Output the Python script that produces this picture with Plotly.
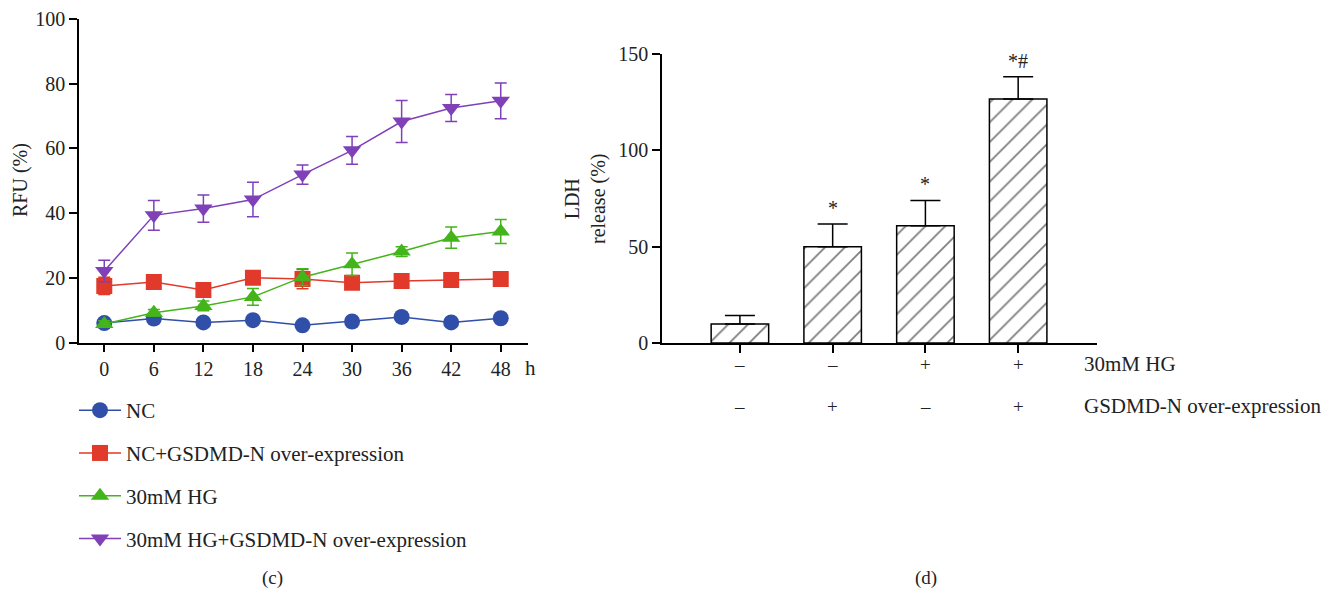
import plotly.graph_objects as go

# ---------------- data ----------------
hours = [0, 6, 12, 18, 24, 30, 36, 42, 48]

nc = [6.0, 7.4, 6.2, 6.9, 5.3, 6.5, 7.9, 6.2, 7.5]
nc_err = [0.6, 0.6, 0.5, 0.5, 0.5, 0.5, 0.6, 0.5, 0.5]

nc_gsdmd = [17.5, 18.7, 16.2, 20.0, 19.6, 18.5, 19.0, 19.3, 19.6]
nc_gsdmd_err = [2.7, 1.0, 1.0, 1.0, 3.0, 1.0, 2.0, 1.0, 1.0]

hg = [5.7, 9.2, 11.3, 14.1, 20.2, 24.2, 28.1, 32.4, 34.3]
hg_err = [1.0, 1.0, 1.5, 2.6, 2.6, 3.5, 1.5, 3.3, 3.7]

hg_gsdmd = [22.1, 39.3, 41.4, 44.2, 51.9, 59.4, 68.3, 72.5, 74.7]
hg_gsdmd_err = [3.3, 4.6, 4.2, 5.3, 3.0, 4.3, 6.5, 4.2, 5.5]

series_names = ["NC", "NC+GSDMD-N over-expression", "30mM HG",
                "30mM HG+GSDMD-N over-expression"]

ldh_groups = [0, 1, 2, 3]
ldh = [9.8, 49.9, 60.8, 126.6]
ldh_err = [4.5, 11.8, 13.2, 11.6]
ldh_sig = ["", "*", "*", "*#"]
hg_sign = ["–", "–", "+", "+"]
gsdmd_sign = ["–", "+", "–", "+"]
row_labels = ["30mM HG", "GSDMD-N over-expression"]

# ---------------- style ----------------
W, H = 1321, 590
FONT = "Liberation Serif, DejaVu Serif, serif"
TXT = "#222"
colors = ["#2f4fa8", "#e1392a", "#43b41a", "#7f40b8"]
symbols = ["circle", "square", "triangle-up", "triangle-down"]
vals = [nc, nc_gsdmd, hg, hg_gsdmd]
errs = [nc_err, nc_gsdmd_err, hg_err, hg_gsdmd_err]


def px(x):
    return x / W


def py(y):
    return (H - y) / H


fig = go.Figure()

for i in range(4):
    fig.add_trace(go.Scatter(
        x=hours, y=vals[i], name=series_names[i], mode="lines+markers",
        line=dict(color=colors[i], width=1.5),
        marker=dict(symbol=symbols[i], size=16, color=colors[i]),
        error_y=dict(type="data", array=errs[i], color=colors[i],
                     thickness=1.5, width=6),
        legendgroup=f"g{i}", xaxis="x", yaxis="y",
    ))

fig.add_trace(go.Bar(
    x=ldh_groups, y=ldh, width=0.62, showlegend=False,
    marker=dict(color="white", line=dict(color="black", width=1.5),
                pattern=dict(shape="/", fgcolor="black", bgcolor="white",
                             size=14, solidity=0.13)),
    error_y=dict(type="data", array=ldh_err, arrayminus=[0] * 4,
                 color="black", thickness=1.5, width=15),
    xaxis="x2", yaxis="y2",
))

axis_common = dict(showline=True, linecolor="black", linewidth=1.5,
                   ticks="outside", ticklen=8, tickwidth=1.5,
                   tickcolor="black", showgrid=False, zeroline=False,
                   tickfont=dict(family=FONT, size=20, color=TXT))


def note(x, y, text, size=20, xref="paper", yref="paper", **kw):
    d = dict(x=x, y=y, xref=xref, yref=yref, text=text, showarrow=False,
             xanchor="center", yanchor="middle",
             font=dict(family=FONT, size=size, color=TXT))
    d.update(kw)
    return d


annotations = []
# right-panel significance marks
for g, v, e, s in zip(ldh_groups, ldh, ldh_err, ldh_sig):
    if s:
        annotations.append(note(g, v + e, s, size=20, xref="x2", yref="y2",
                                yshift=16))
# sign rows
for g, s1, s2 in zip(ldh_groups, hg_sign, gsdmd_sign):
    annotations.append(note(g, py(364), s1, size=19, xref="x2"))
    annotations.append(note(g, py(406), s2, size=19, xref="x2"))
for lab, yy in zip(row_labels, [364, 406]):
    annotations.append(note(px(1082), py(yy), lab, size=21, xanchor="left"))

annotations += [
    note(px(530), py(368), "h", size=21),
    note(px(21), py(180), "RFU (%)", size=20, textangle=-90),
    note(px(585), py(199), "LDH<br>release (%)", size=20, textangle=-90),
    note(px(272), py(578), "(c)", size=19),
    note(px(926), py(578), "(d)", size=19),
]

fig.update_layout(
    width=W, height=H, autosize=False,
    margin=dict(l=0, r=0, t=0, b=0, pad=0, autoexpand=False),
    paper_bgcolor="white", plot_bgcolor="white",
    font=dict(family=FONT, color=TXT),
    xaxis=dict(domain=[px(79), px(528)], range=[-3.06, 51.3],
               tickvals=hours, anchor="y", **axis_common),
    yaxis=dict(domain=[py(342.5), py(19)], range=[0, 100],
               tickvals=[0, 20, 40, 60, 80, 100], anchor="x", **axis_common),
    xaxis2=dict(domain=[px(662), px(1097)], range=[-0.84, 3.85],
                tickvals=ldh_groups, ticktext=[""] * 4, anchor="y2",
                **axis_common),
    yaxis2=dict(domain=[py(343), py(54)], range=[0, 150],
                tickvals=[0, 50, 100, 150], anchor="x2", **axis_common),
    showlegend=True,
    legend=dict(x=px(74), y=py(390), xanchor="left", yanchor="top",
                font=dict(family=FONT, size=21, color=TXT),
                itemwidth=42, tracegroupgap=12.5, bgcolor="rgba(0,0,0,0)"),
    annotations=annotations,
)

fig.write_html("out.html", config={"displayModeBar": False},
               post_script="document.body.style.margin='0';")
